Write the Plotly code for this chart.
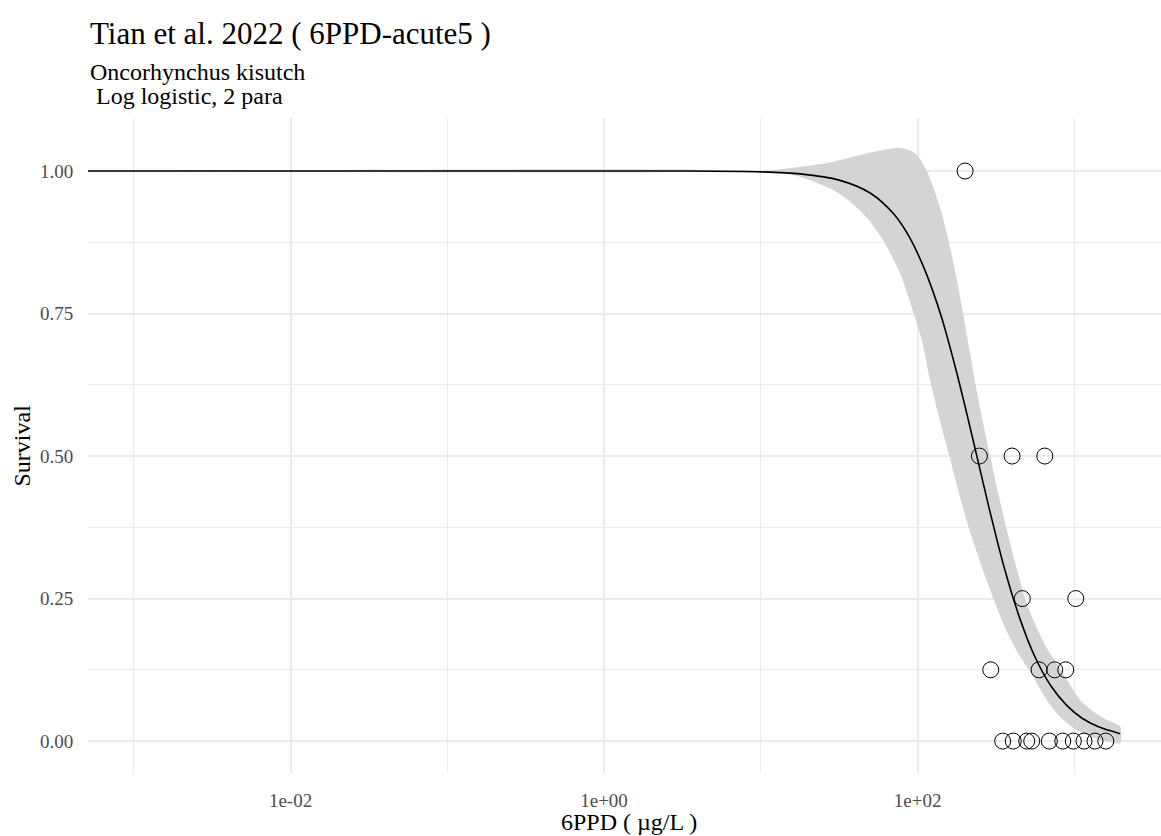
import plotly.graph_objects as go

# ---- data ----
# observed points: concentration (µg/L) and survival
obs_conc = [201,
            248, 401, 648,
            466, 1021,
            293, 596, 750, 882,
            349, 408, 497, 535, 693, 844, 986, 1153, 1355, 1588]
obs_surv = [1.0,
            0.5, 0.5, 0.5,
            0.25, 0.25,
            0.125, 0.125, 0.125, 0.125,
            0, 0, 0, 0, 0, 0, 0, 0, 0, 0]

# fitted curve (log10 concentration, survival)
curve_log10 = [-3.292, 0.5, 1.0, 1.25, 1.5, 1.7, 1.85, 1.95, 2.05, 2.15, 2.25, 2.35,
               2.45, 2.55, 2.65, 2.75, 2.85, 2.95, 3.05, 3.15, 3.292]
curve_surv = [1.0, 1.0, 0.9985, 0.995, 0.984, 0.961, 0.924, 0.883, 0.824, 0.746, 0.646, 0.533,
              0.416, 0.307, 0.217, 0.147, 0.097, 0.063, 0.040, 0.0255, 0.013]

# confidence band edges (log10 concentration, survival)
upper_log10 = [-3.292, 1.0, 1.25, 1.46, 1.68, 1.80, 1.87, 1.95, 2.0, 2.05, 2.09, 2.15, 2.20,
               2.25, 2.29, 2.33, 2.37, 2.415, 2.463, 2.513, 2.565, 2.625, 2.686, 2.75, 2.83,
               2.913, 3.037, 3.12, 3.207, 3.292]
upper_surv = [1.0, 1.0, 1.0075, 1.016, 1.031, 1.038, 1.041, 1.037, 1.027, 1.005, 0.98, 0.93, 0.875,
              0.81, 0.75, 0.688, 0.625, 0.562, 0.5, 0.437, 0.375, 0.31, 0.25, 0.205, 0.16,
              0.125, 0.072, 0.052, 0.037, 0.026]
lower_log10 = [-3.292, 1.0, 1.25, 1.46, 1.57, 1.68, 1.78, 1.89, 1.97, 2.03, 2.08, 2.14, 2.20,
               2.26, 2.32, 2.38, 2.43, 2.484, 2.54, 2.60, 2.65, 2.71, 2.77, 2.824, 2.9,
               3.0, 3.1, 3.2, 3.292]
lower_surv = [1.0, 1.0, 0.99, 0.967, 0.946, 0.917, 0.879, 0.82, 0.755, 0.70, 0.633, 0.565, 0.503,
              0.44, 0.38, 0.33, 0.29, 0.25, 0.21, 0.175, 0.15, 0.125, 0.097, 0.072, 0.045,
              0.022, 0.008, 0.0, -0.004]

x_tick_vals = [0.01, 1, 100]
x_tick_text = ["1e-02", "1e+00", "1e+02"]
x_minor_vals = [0.001, 0.1, 10, 1000]
y_tick_vals = [0, 0.25, 0.5, 0.75, 1.0]
y_tick_text = ["0.00", "0.25", "0.50", "0.75", "1.00"]
y_minor_vals = [0.125, 0.375, 0.625, 0.875]

title_text = "Tian et al. 2022 ( 6PPD-acute5 )"
subtitle_1 = "Oncorhynchus kisutch"
subtitle_2 = " Log logistic, 2 para"
x_title = "6PPD ( µg/L )"
y_title = "Survival"

FONT = "Liberation Serif"

band_x = [10 ** v for v in upper_log10] + [10 ** v for v in lower_log10[::-1]]
band_y = upper_surv + lower_surv[::-1]

fig = go.Figure()
fig.add_trace(go.Scatter(
    x=band_x, y=band_y, mode="lines", fill="toself",
    fillcolor="rgb(212,212,212)", line=dict(width=0, shape="spline", smoothing=0.6),
    hoverinfo="skip", showlegend=False))
fig.add_trace(go.Scatter(
    x=[10 ** v for v in curve_log10], y=curve_surv, mode="lines",
    line=dict(color="black", width=1.6, shape="spline", smoothing=0.8),
    showlegend=False))
fig.add_trace(go.Scatter(
    x=obs_conc, y=obs_surv, mode="markers",
    marker=dict(symbol="circle-open", size=16, color="black", line=dict(width=1, color="black")),
    showlegend=False))

grid_c = "#ebebeb"
fig.update_layout(
    width=1161, height=836,
    margin=dict(l=88, r=0, t=118, b=63),
    paper_bgcolor="white", plot_bgcolor="white",
    font=dict(family=FONT, color="black"),
    xaxis=dict(
        type="log", range=[-3.292, 3.553],
        tickvals=x_tick_vals, ticktext=x_tick_text,
        tickfont=dict(size=19, color="#4d4d4d", family=FONT),
        ticks="outside", ticklen=10, tickcolor="rgba(0,0,0,0)",
        showgrid=True, gridcolor=grid_c, gridwidth=1.6,
        minor=dict(tickvals=x_minor_vals, showgrid=True, gridcolor=grid_c, gridwidth=1.0, ticks=""),
        zeroline=False, showline=False),
    yaxis=dict(
        range=[-0.056, 1.093],
        tickvals=y_tick_vals, ticktext=y_tick_text,
        tickfont=dict(size=19, color="#4d4d4d", family=FONT),
        ticks="outside", ticklen=10, tickcolor="rgba(0,0,0,0)",
        showgrid=True, gridcolor=grid_c, gridwidth=1.6,
        minor=dict(tickvals=y_minor_vals, showgrid=True, gridcolor=grid_c, gridwidth=1.0, ticks=""),
        zeroline=False, showline=False),
    annotations=[
        dict(text=title_text, xref="paper", yref="paper", x=0, y=1, xanchor="left", yanchor="middle",
             yshift=85, showarrow=False, font=dict(size=31, family=FONT, color="black")),
        dict(text=subtitle_1, xref="paper", yref="paper", x=0, y=1, xanchor="left", yanchor="middle",
             yshift=46, showarrow=False, font=dict(size=24, family=FONT, color="black")),
        dict(text=subtitle_2, xref="paper", yref="paper", x=0, y=1, xanchor="left", yanchor="middle",
             yshift=22, showarrow=False, font=dict(size=24, family=FONT, color="black")),
        dict(text=x_title, xref="paper", yref="paper", x=0.504, y=0, xanchor="center", yanchor="middle",
             yshift=-49, showarrow=False, font=dict(size=24, family=FONT, color="black")),
        dict(text=y_title, xref="paper", yref="paper", x=0, y=0.5, xanchor="center", yanchor="middle",
             xshift=-67, textangle=-90, showarrow=False, font=dict(size=24, family=FONT, color="black")),
    ],
)

fig.write_html("out.html", config={"displayModeBar": False},
               post_script="document.body.style.margin='0';document.body.style.overflow='hidden';")
